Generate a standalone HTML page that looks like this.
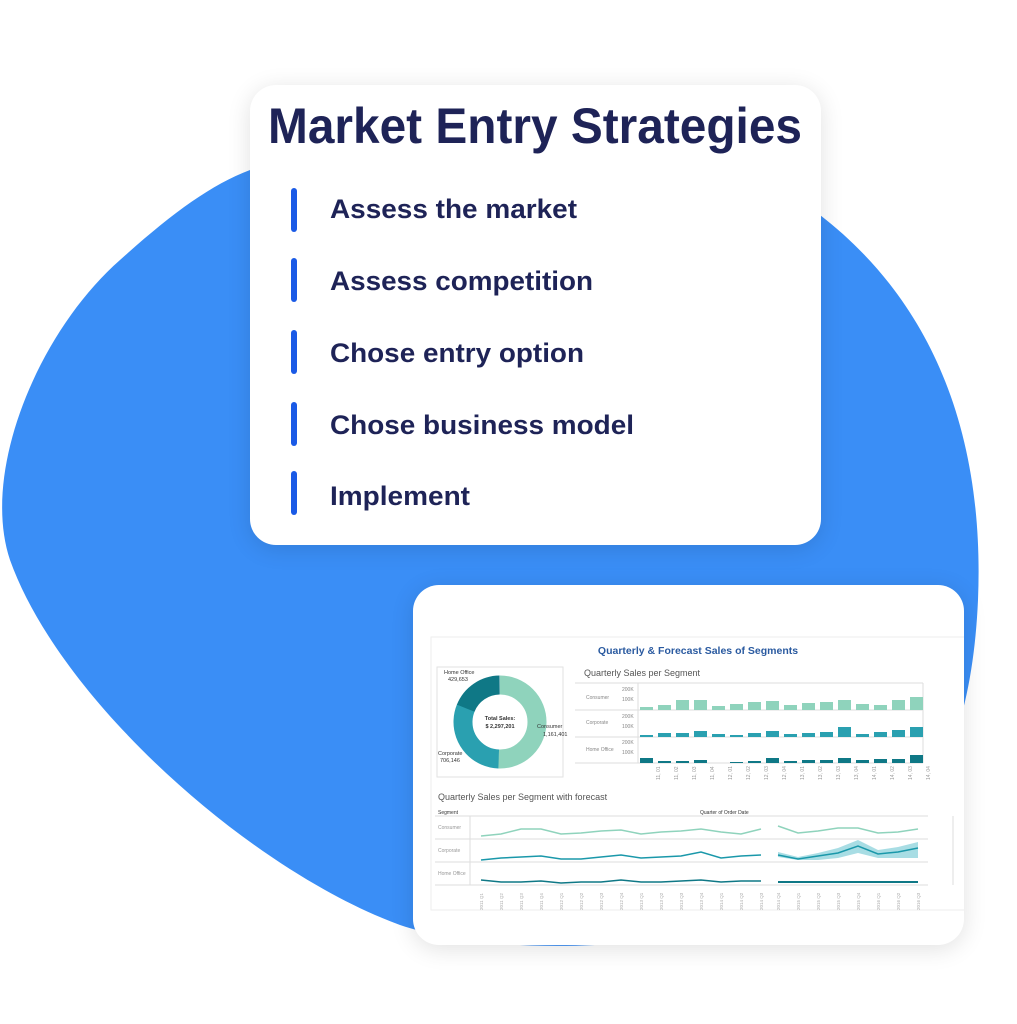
<!DOCTYPE html>
<html><head><meta charset="utf-8"><style>
html,body{margin:0;padding:0;background:#fff;}
body{width:1017px;height:1024px;position:relative;overflow:hidden;font-family:"Liberation Sans",sans-serif;}
.card{position:absolute;background:#fff;border-radius:26px;box-shadow:0 4px 24px rgba(0,0,0,0.12);}
</style></head><body>
<svg width="1017" height="1024" style="position:absolute;left:0;top:0">
<path d="M250,170 C420,120 700,130 820,215 C930,300 985,430 978,600 C970,780 900,900 700,935 C560,955 460,945 400,925 C250,870 60,700 10,560 C-20,470 40,330 120,260 C170,215 210,185 250,170 Z" fill="#3a8ef6"/>
</svg>
<div class="card" style="left:250px;top:85px;width:571px;height:460px;">
<svg width="571" height="460" style="position:absolute;left:0;top:0">
<text x="18" y="58" font-family="Liberation Sans" font-weight="bold" font-size="50" fill="#1e2357" textLength="534" lengthAdjust="spacingAndGlyphs">Market Entry Strategies</text>
<g fill="#1a5ae6">
<rect x="41" y="103" width="6" height="44" rx="3"/>
<rect x="41" y="173" width="6" height="44" rx="3"/>
<rect x="41" y="245" width="6" height="44" rx="3"/>
<rect x="41" y="317" width="6" height="44" rx="3"/>
<rect x="41" y="386" width="6" height="44" rx="3"/>
</g>
<g font-family="Liberation Sans" font-weight="bold" font-size="27" fill="#1e2357">
<text x="80" y="133" textLength="247" lengthAdjust="spacingAndGlyphs">Assess the market</text>
<text x="80" y="205" textLength="263" lengthAdjust="spacingAndGlyphs">Assess competition</text>
<text x="80" y="277" textLength="254" lengthAdjust="spacingAndGlyphs">Chose entry option</text>
<text x="80" y="349" textLength="304" lengthAdjust="spacingAndGlyphs">Chose business model</text>
<text x="80" y="420" textLength="140" lengthAdjust="spacingAndGlyphs">Implement</text>
</g>
</svg>
</div>
<div class="card" style="left:413px;top:585px;width:551px;height:360px;">
<svg width="551" height="360" style="position:absolute;left:0;top:0" font-family="Liberation Sans">
<g transform="translate(-413,-585)">
<rect x="431" y="637" width="534" height="273" fill="#fff" stroke="#eee"/>
<text x="698" y="654" font-size="10.5" font-weight="bold" fill="#2a5aa0" text-anchor="middle">Quarterly &amp; Forecast Sales of  Segments</text>
<rect x="437" y="667" width="126" height="110" fill="none" stroke="#e2e2e2"/>
<g fill="none" stroke-width="19">
<circle cx="500" cy="722" r="37" stroke="#8fd3bc" stroke-dasharray="117.6 300" transform="rotate(-90 500 722)"/>
<circle cx="500" cy="722" r="37" stroke="#2aa0b0" stroke-dasharray="71.4 300" transform="rotate(92 500 722)"/>
<circle cx="500" cy="722" r="37" stroke="#0f7886" stroke-dasharray="43.5 300" transform="rotate(202 500 722)"/>
</g>
<g font-size="5.5" fill="#333">
<text x="444" y="674">Home Office</text><text x="448" y="681">429,653</text>
<text x="500" y="720" text-anchor="middle" font-weight="bold">Total Sales:</text>
<text x="500" y="728" text-anchor="middle" font-weight="bold">$ 2,297,201</text>
<text x="537" y="728">Consumer</text><text x="543" y="736">1,161,401</text>
<text x="438" y="755">Corporate</text><text x="440" y="762">706,146</text>
</g>
<text x="584" y="676" font-size="9" fill="#555">Quarterly Sales per Segment</text>
<g stroke="#ddd" stroke-width="1"><line x1="575" y1="683" x2="923" y2="683"/><line x1="575" y1="710" x2="923" y2="710"/><line x1="575" y1="737" x2="923" y2="737"/><line x1="575" y1="763" x2="923" y2="763"/><line x1="638" y1="683" x2="638" y2="763"/><line x1="923" y1="683" x2="923" y2="763"/></g>
<g font-size="5" fill="#888"><text x="586" y="699">Consumer</text><text x="586" y="724">Corporate</text><text x="586" y="751">Home Office</text>
<text x="622" y="691">200K</text><text x="622" y="701">100K</text><text x="622" y="718">200K</text><text x="622" y="728">100K</text><text x="622" y="744">200K</text><text x="622" y="754">100K</text></g>
<g fill="#8fd3bc"><rect x="640" y="707" width="13" height="3"/><rect x="658" y="705" width="13" height="5"/><rect x="676" y="700" width="13" height="10"/><rect x="694" y="700" width="13" height="10"/><rect x="712" y="706" width="13" height="4"/><rect x="730" y="704" width="13" height="6"/><rect x="748" y="702" width="13" height="8"/><rect x="766" y="701" width="13" height="9"/><rect x="784" y="705" width="13" height="5"/><rect x="802" y="703" width="13" height="7"/><rect x="820" y="702" width="13" height="8"/><rect x="838" y="700" width="13" height="10"/><rect x="856" y="704" width="13" height="6"/><rect x="874" y="705" width="13" height="5"/><rect x="892" y="700" width="13" height="10"/><rect x="910" y="697" width="13" height="13"/></g>
<g fill="#2aa0b0"><rect x="640" y="735" width="13" height="2"/><rect x="658" y="733" width="13" height="4"/><rect x="676" y="733" width="13" height="4"/><rect x="694" y="731" width="13" height="6"/><rect x="712" y="734" width="13" height="3"/><rect x="730" y="735" width="13" height="2"/><rect x="748" y="733" width="13" height="4"/><rect x="766" y="731" width="13" height="6"/><rect x="784" y="734" width="13" height="3"/><rect x="802" y="733" width="13" height="4"/><rect x="820" y="732" width="13" height="5"/><rect x="838" y="727" width="13" height="10"/><rect x="856" y="734" width="13" height="3"/><rect x="874" y="732" width="13" height="5"/><rect x="892" y="730" width="13" height="7"/><rect x="910" y="727" width="13" height="10"/></g>
<g fill="#0f7886"><rect x="640" y="758" width="13" height="5"/><rect x="658" y="761" width="13" height="2"/><rect x="676" y="761" width="13" height="2"/><rect x="694" y="760" width="13" height="3"/><rect x="730" y="762" width="13" height="1"/><rect x="748" y="761" width="13" height="2"/><rect x="766" y="758" width="13" height="5"/><rect x="784" y="761" width="13" height="2"/><rect x="802" y="760" width="13" height="3"/><rect x="820" y="760" width="13" height="3"/><rect x="838" y="758" width="13" height="5"/><rect x="856" y="760" width="13" height="3"/><rect x="874" y="759" width="13" height="4"/><rect x="892" y="759" width="13" height="4"/><rect x="910" y="755" width="13" height="8"/></g>
<g font-size="5" fill="#999">
<text transform="translate(660,780) rotate(-90)">11, 01</text><text transform="translate(678,780) rotate(-90)">11, 02</text><text transform="translate(696,780) rotate(-90)">11, 03</text><text transform="translate(714,780) rotate(-90)">11, 04</text><text transform="translate(732,780) rotate(-90)">12, 01</text><text transform="translate(750,780) rotate(-90)">12, 02</text><text transform="translate(768,780) rotate(-90)">12, 03</text><text transform="translate(786,780) rotate(-90)">12, 04</text><text transform="translate(804,780) rotate(-90)">13, 01</text><text transform="translate(822,780) rotate(-90)">13, 02</text><text transform="translate(840,780) rotate(-90)">13, 03</text><text transform="translate(858,780) rotate(-90)">13, 04</text><text transform="translate(876,780) rotate(-90)">14, 01</text><text transform="translate(894,780) rotate(-90)">14, 02</text><text transform="translate(912,780) rotate(-90)">14, 03</text><text transform="translate(930,780) rotate(-90)">14, 04</text>
</g>
<text x="438" y="800" font-size="9" fill="#555">Quarterly Sales per Segment with forecast</text>
<text x="438" y="814" font-size="5" fill="#333">Segment</text>
<text x="700" y="814" font-size="5" fill="#333">Quarter of Order Date</text>
<g stroke="#ddd"><line x1="435" y1="816" x2="928" y2="816"/><line x1="435" y1="839" x2="928" y2="839"/><line x1="435" y1="862" x2="928" y2="862"/><line x1="435" y1="885" x2="928" y2="885"/><line x1="470" y1="816" x2="470" y2="885"/><line x1="953" y1="816" x2="953" y2="885"/></g>
<g font-size="5" fill="#999"><text x="438" y="829">Consumer</text><text x="438" y="852">Corporate</text><text x="438" y="875">Home Office</text></g>
<g fill="none" stroke-width="1.5">
<polyline stroke="#8fd3bc" points="481,836 501,834 521,829 541,829 561,834 581,833 601,831 621,830 641,834 661,832 681,831 701,829 721,832 741,834 761,829"/>
<polyline stroke="#8fd3bc" points="778,826 798,833 818,831 838,828 858,828 878,833 898,832 918,829"/>
<polyline stroke="#1a98aa" points="481,860 501,858 521,857 541,856 561,859 581,859 601,857 621,855 641,858 661,857 681,856 701,852 721,858 741,856 761,855"/>
<polygon fill="#a8dde4" stroke="none" points="778,852 798,857 818,853 838,848 858,840 878,850 898,847 918,842 918,858 898,858 878,858 858,853 838,858 818,860 798,860 778,857"/>
<polyline stroke="#1a98aa" points="778,855 798,859 818,856 838,853 858,846 878,854 898,852 918,848"/>
<polyline stroke="#0f7886" points="481,880 501,882 521,882 541,881 561,883 581,882 601,882 621,880 641,882 661,882 681,881 701,880 721,882 741,881 761,881"/>
<line stroke="#0f7886" stroke-width="2" x1="778" y1="882" x2="918" y2="882"/>
</g>
<g font-size="4.5" fill="#aaa" id="lx">
<text transform="translate(483,910) rotate(-90)">2011 Q1</text><text transform="translate(503,910) rotate(-90)">2011 Q2</text><text transform="translate(523,910) rotate(-90)">2011 Q3</text><text transform="translate(543,910) rotate(-90)">2011 Q4</text><text transform="translate(563,910) rotate(-90)">2012 Q1</text><text transform="translate(583,910) rotate(-90)">2012 Q2</text><text transform="translate(603,910) rotate(-90)">2012 Q3</text><text transform="translate(623,910) rotate(-90)">2012 Q4</text><text transform="translate(643,910) rotate(-90)">2013 Q1</text><text transform="translate(663,910) rotate(-90)">2013 Q2</text><text transform="translate(683,910) rotate(-90)">2013 Q3</text><text transform="translate(703,910) rotate(-90)">2013 Q4</text><text transform="translate(723,910) rotate(-90)">2014 Q1</text><text transform="translate(743,910) rotate(-90)">2014 Q2</text><text transform="translate(763,910) rotate(-90)">2014 Q3</text><text transform="translate(780,910) rotate(-90)">2014 Q4</text><text transform="translate(800,910) rotate(-90)">2015 Q1</text><text transform="translate(820,910) rotate(-90)">2015 Q2</text><text transform="translate(840,910) rotate(-90)">2015 Q3</text><text transform="translate(860,910) rotate(-90)">2015 Q4</text><text transform="translate(880,910) rotate(-90)">2016 Q1</text><text transform="translate(900,910) rotate(-90)">2016 Q2</text><text transform="translate(920,910) rotate(-90)">2016 Q3</text>
</g>
</g>
</svg>
</div>
</body></html>
